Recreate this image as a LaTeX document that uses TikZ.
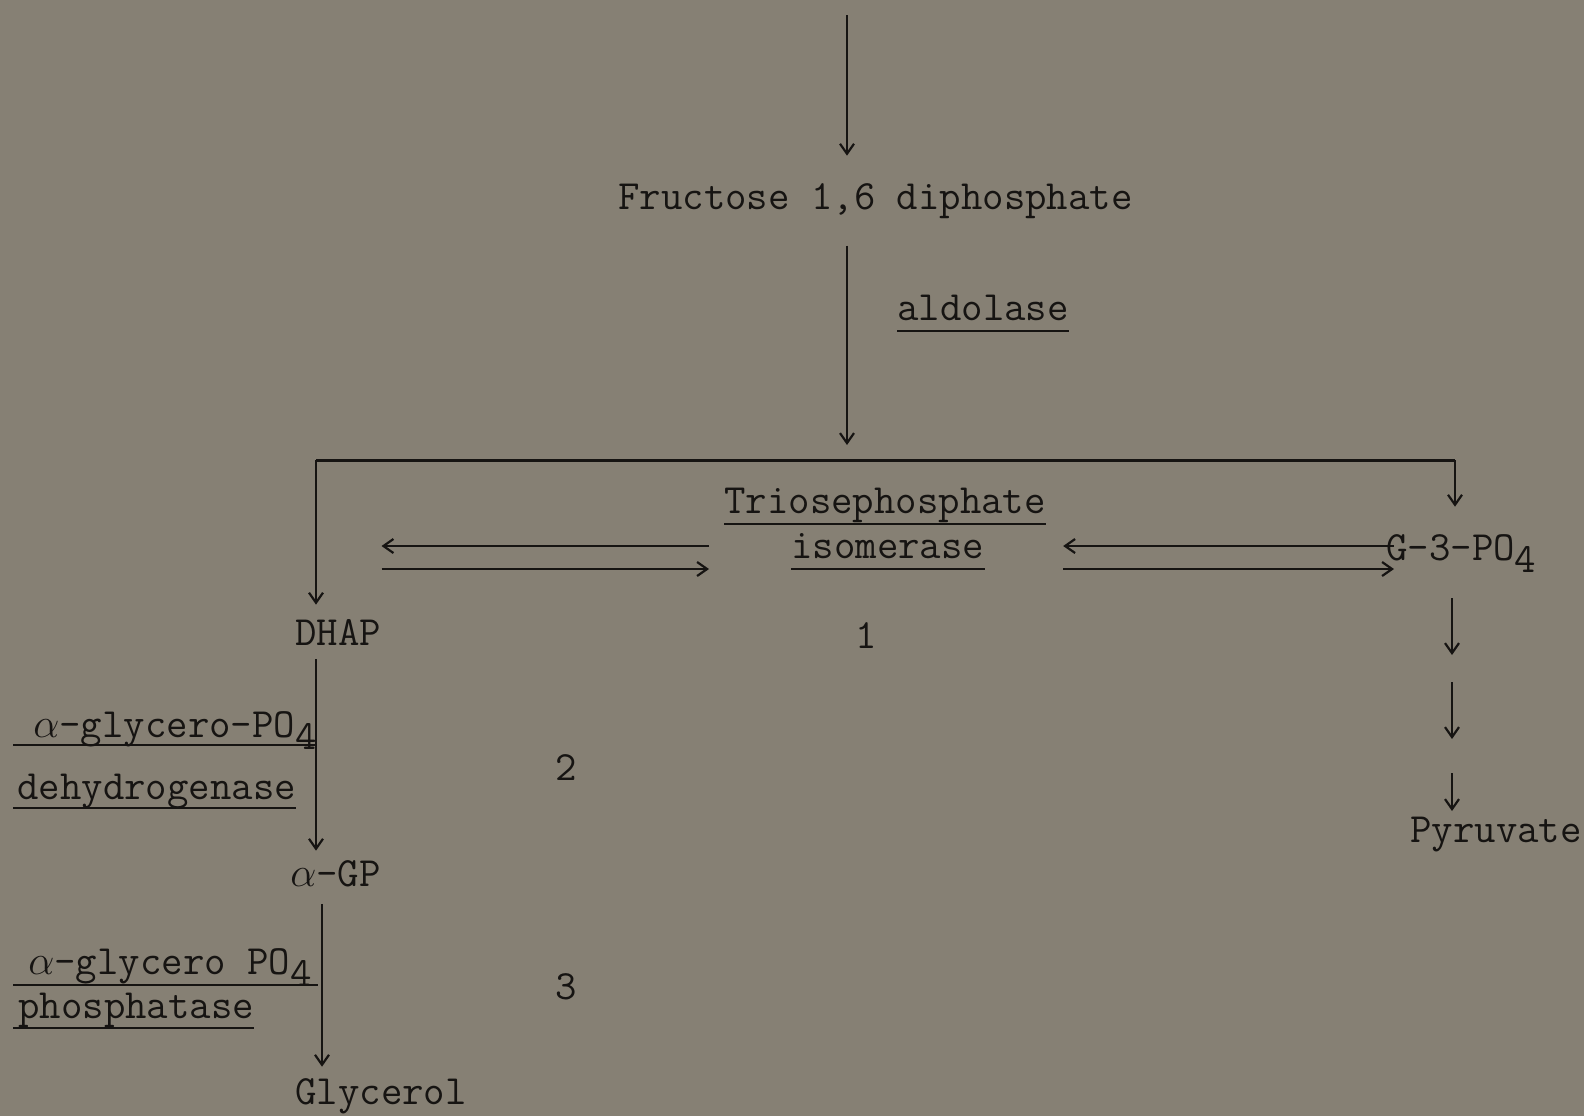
\documentclass[tikz,border=0pt]{standalone}
\usetikzlibrary{arrows.meta}
\definecolor{paper}{RGB}{134,128,116}
\definecolor{ink}{RGB}{22,20,18}
\newcommand{\lowsub}[1]{\raisebox{-0.7ex}{#1}}
\begin{document}
\begin{tikzpicture}[
        x=0.5pt, y=-0.5pt,
        txt/.style={inner sep=0pt, text=ink, anchor=base west, font=\ttfamily\fontsize{20.8}{24}\selectfont},
        arr/.style={draw=ink, line width=1.1pt, -{Straight Barb[length=5pt,width=7pt]}},
        ul/.style={draw=ink, line width=1.4pt},
        bar/.style={draw=ink, line width=1.5pt}
    ]

    \fill[paper] (0,0) rectangle (1584,1116);
    \useasboundingbox (0,0) rectangle (1584,1116);

    \node[txt] (fdp) at (618,209) {Fructose 1,6 diphosphate};
    \node[txt] (ald) at (897,320) {aldolase};
    \node[txt] (tri) at (724,513) {Triosephosphate};
    \node[txt] (iso) at (791,558) {isomerase};
    \node[txt] (g3p) at (1386,560) {G-3-PO\lowsub{4}};
    \node[txt] (dhap) at (295,645) {DHAP};
    \node[txt,anchor=base] (one) at (866,648) {1};
    \node[txt] (e2a) at (33,737) {$\alpha$-glycero-PO\lowsub{4}};
    \node[txt] (e2b) at (17,799) {dehydrogenase};
    \node[txt,anchor=base] (two) at (566,780) {2};
    \node[txt] (agp) at (290,886) {$\alpha$-GP};
    \node[txt] (e3a) at (28,974) {$\alpha$-glycero PO\lowsub{4}};
    \node[txt] (e3b) at (18,1018) {phosphatase};
    \node[txt,anchor=base] (three) at (566,999) {3};
    \node[txt] (gly) at (295,1104) {Glycerol};
    \node[txt] (pyr) at (1410,842) {Pyruvate};

    \coordinate (top) at (847,15);
    \coordinate (split) at (847,460);
    \coordinate (lc) at (316,460);
    \coordinate (rc) at (1455,460);
    \coordinate (up) at (0,546);
    \coordinate (lo) at (0,569);
    \coordinate (gx) at (322,0);
    \coordinate (py1) at (1452,598);
    \coordinate (py2) at (1452,655);
    \coordinate (py3) at (1452,682);
    \coordinate (py4) at (1452,739);
    \coordinate (py5) at (1452,773);
    \coordinate (py6) at (1452,811);

    \draw[arr,shorten >=13.5pt] (top) -- (top |- fdp.north);
    \draw[arr,shorten <=13.5pt,shorten >=7.5pt] (fdp.south -| top) -- (split);
    \draw[bar] (lc) -- (rc);
    \draw[arr,shorten >=7pt] (lc) -- (lc |- dhap.north);
    \draw[arr,shorten >=13.5pt] (rc) -- (rc |- g3p.north);

    \draw[arr,shorten <=7.5pt] (tri.west |- up) -- (dhap.east |- up);
    \draw[arr,shorten >=7.5pt] (dhap.east |- lo) -- (tri.west |- lo);
    \draw[arr,shorten <=-4pt,shorten >=8.5pt] (g3p.west |- up) -- (tri.east |- up);
    \draw[arr,shorten <=8.5pt,shorten >=-4pt] (tri.east |- lo) -- (g3p.west |- lo);

    \draw[arr] (py1) -- (py2);
    \draw[arr] (py3) -- (py4);
    \draw[arr] (py5) -- (py6);

    \draw[arr,shorten <=7pt,shorten >=4.5pt] (dhap.south -| lc) -- (lc |- agp.north);
    \draw[arr,shorten <=8.5pt,shorten >=5.5pt] (agp.south -| gx) -- (gx |- gly.north);

    \draw[ul] ([yshift=-5.5pt]ald.base west) -- ([yshift=-5.5pt]ald.base east);
    \draw[ul] ([yshift=-5.5pt]tri.base west) -- ([yshift=-5.5pt]tri.base east);
    \draw[ul] ([yshift=-5.5pt]iso.base west) -- ([yshift=-5.5pt]iso.base east);
    \draw[ul] ([xshift=-10pt,yshift=-4pt]e2a.base west) -- ([yshift=-4pt]e2a.base east);
    \draw[ul] ([xshift=-2pt,yshift=-4.5pt]e2b.base west) -- ([yshift=-4.5pt]e2b.base east);
    \draw[ul] ([xshift=-7.5pt,yshift=-5.5pt]e3a.base west) -- ([xshift=3pt,yshift=-5.5pt]e3a.base east);
    \draw[ul] ([xshift=-2.5pt,yshift=-5pt]e3b.base west) -- ([yshift=-5pt]e3b.base east);

\end{tikzpicture}
\end{document}
